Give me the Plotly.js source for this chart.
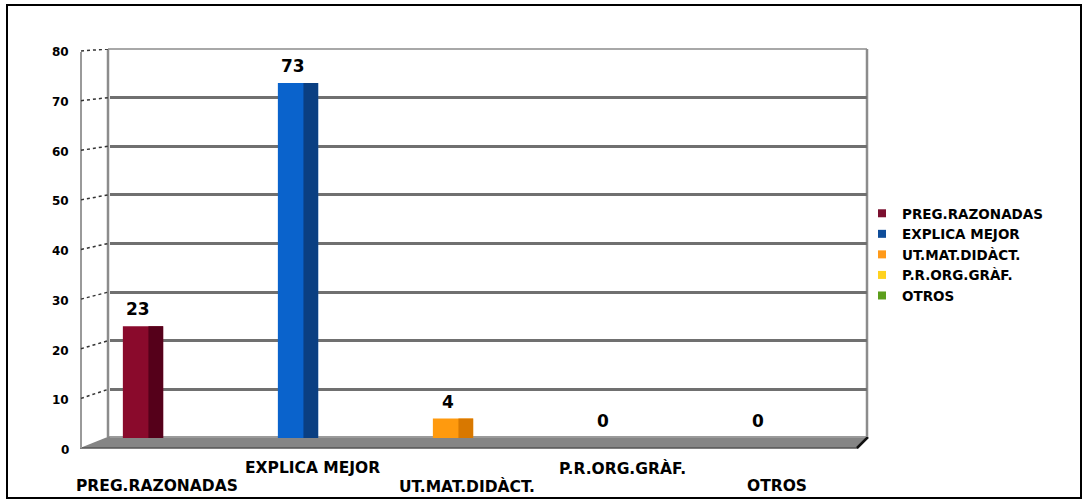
<!DOCTYPE html>
<html>
<head>
<meta charset="utf-8">
<script src="https://cdn.plot.ly/plotly-3.0.1.min.js"></script>
<style>html,body{margin:0;padding:0;background:#fff;}#chart{width:1088px;height:504px;}</style>
</head>
<body>
<div id="chart"></div>
<script>
// ---- data ----
const categories = ['PREG.RAZONADAS', 'EXPLICA MEJOR', 'UT.MAT.DIDÀCT.', 'P.R.ORG.GRÀF.', 'OTROS'];
const values = [23, 73, 4, 0, 0];
const yTicks = [0, 10, 20, 30, 40, 50, 60, 70, 80];
const gridVals = [10, 20, 30, 40, 50, 60, 70];
const mainColors = ['#8a0a2c', '#0a63cc', '#ff9a0e', '#ffcc00', '#5c9e1c'];
const shadeColors = ['#55001a', '#0a3f82', '#d87800', '#d4a800', '#3d7010'];
const legendColors = ['#7b1030', '#0f4d9a', '#ff9a1a', '#ffd21f', '#5c9e1c'];

// ---- geometry helpers (pixel -> paper) ----
const W = 1088, H = 504;
const L = 110, R = 867, T = 49, B = 438;
const pw = R - L, ph = B - T;
const px = x => (x - L) / pw;
const py = y => (B - y) / ph;
const FONT = 'DejaVu Sans';

const traces = [];
categories.forEach((c, i) => {
  traces.push({
    type: 'bar', x: [c], y: [values[i]], width: [0.26], offset: [-0.13],
    marker: {color: mainColors[i]}, showlegend: false, hoverinfo: 'skip'
  });
  traces.push({
    type: 'bar', x: [c], y: [values[i]], width: [0.095], offset: [0.035],
    marker: {color: shadeColors[i]}, showlegend: false, hoverinfo: 'skip'
  });
});
categories.forEach((c, i) => {
  traces.push({
    type: 'scatter', mode: 'markers', x: [null], y: [null], name: c,
    marker: {symbol: 'square', size: 8, color: legendColors[i]}
  });
});

const annotations = [];
// value labels
categories.forEach((c, i) => {
  annotations.push({
    x: c, y: values[i], xref: 'x', yref: 'y', text: String(values[i]),
    showarrow: false, yanchor: 'bottom', yshift: 5, xshift: -5,
    font: {family: FONT, size: 17, color: '#000', weight: 'bold'}
  });
});
// category labels (staggered)
categories.forEach((c, i) => {
  annotations.push({
    x: c, y: 0, xref: 'x', yref: 'paper', text: c, showarrow: false,
    yanchor: 'middle', xanchor: 'center', xshift: 14, yshift: (i % 2 === 0) ? -48 : -30,
    font: {family: FONT, size: 15.5, color: '#000', weight: 'bold'}
  });
});
// y tick labels (perspective offset)
yTicks.forEach(v => {
  annotations.push({
    x: px(71), y: v, xref: 'paper', yref: 'y', text: String(v), showarrow: false,
    xanchor: 'right', yanchor: 'middle', yshift: -(3 + (80 - v) * 9 / 80),
    font: {family: FONT, size: 12, color: '#000', weight: 'bold'}
  });
});

const shapes = [];
// outer border
shapes.push({type: 'rect', xref: 'paper', yref: 'paper', x0: px(7), x1: px(1081), y0: py(498), y1: py(5),
  line: {color: '#000', width: 2}, layer: 'above'});
// floor
shapes.push({type: 'path', xref: 'paper', yref: 'paper',
  path: `M${px(110)},${py(436)} L${px(867)},${py(436)} L${px(858)},${py(448)} L${px(80)},${py(448)} Z`,
  fillcolor: '#858585', line: {width: 0}, layer: 'below'});
shapes.push({type: 'line', xref: 'paper', yref: 'paper', x0: px(110), y0: py(437), x1: px(867), y1: py(437),
  line: {color: '#b0b0b0', width: 1}, layer: 'below'});
shapes.push({type: 'line', xref: 'paper', yref: 'paper', x0: px(80), y0: py(448), x1: px(858), y1: py(448),
  line: {color: '#555', width: 1.5}, layer: 'below'});
shapes.push({type: 'line', xref: 'paper', yref: 'paper', x0: px(868), y0: py(437), x1: px(857), y1: py(448),
  line: {color: '#111', width: 2.5}, layer: 'below'});
// back wall edges
shapes.push({type: 'line', xref: 'paper', yref: 'paper', x0: px(108), y0: py(T), x1: px(R), y1: py(T),
  line: {color: '#a8a8a8', width: 2}, layer: 'below'});
shapes.push({type: 'line', xref: 'paper', yref: 'paper', x0: px(R), y0: py(T), x1: px(R), y1: py(437),
  line: {color: '#8c8c8c', width: 2.5}, layer: 'below'});
shapes.push({type: 'line', xref: 'paper', yref: 'paper', x0: px(108), y0: py(T), x1: px(108), y1: py(437),
  line: {color: '#8c8c8c', width: 2.5}, layer: 'below'});
// left wall front edge
shapes.push({type: 'line', xref: 'paper', yref: 'paper', x0: px(81), y0: py(52), x1: px(81), y1: py(448),
  line: {color: '#9a9a9a', width: 2}, layer: 'below'});
// left wall slanted ticks
yTicks.forEach(v => {
  const off = 2 + (80 - v) * 8 / 80;
  shapes.push({type: 'line', xref: 'paper', yref: 'y', x0: px(81), y0: v - off / (ph / 80), x1: px(108), y1: v,
    line: {color: '#333', width: 1.5, dash: 'dot'}, layer: 'below'});
});

const layout = {
  width: W, height: H,
  margin: {l: L, r: W - R, t: T, b: H - B, pad: 0},
  paper_bgcolor: '#fff', plot_bgcolor: 'rgba(0,0,0,0)',
  barmode: 'overlay',
  showlegend: true,
  legend: {x: px(862), xanchor: 'left', y: py(198), yanchor: 'top',
    font: {family: FONT, size: 13.5, color: '#000', weight: 'bold'},
    bgcolor: 'rgba(0,0,0,0)', itemclick: false, tracegroupgap: 0},
  xaxis: {type: 'category', categoryorder: 'array', categoryarray: categories,
    range: [-0.213, -0.213 + pw / 155], showticklabels: false, showgrid: false,
    zeroline: false, showline: false, ticks: ''},
  yaxis: {range: [0, 80], tickvals: gridVals, showticklabels: false, showgrid: true,
    gridcolor: '#707070', gridwidth: 3, zeroline: false, showline: false, ticks: ''},
  annotations: annotations,
  shapes: shapes
};

Plotly.newPlot('chart', traces, layout, {displayModeBar: false, staticPlot: true});
</script>
</body>
</html>
